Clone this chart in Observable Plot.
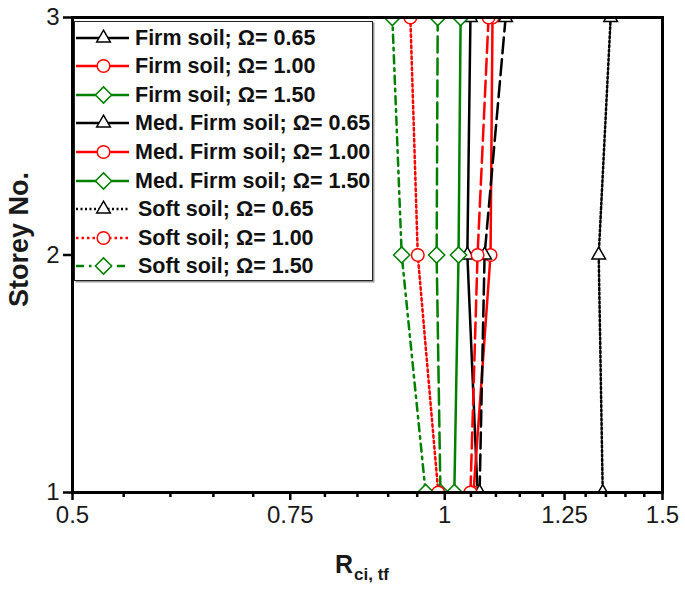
<!DOCTYPE html>
<html>
<head>
<meta charset="utf-8">
<script src="https://cdn.jsdelivr.net/npm/d3@7"></script>
<script src="https://cdn.jsdelivr.net/npm/@observablehq/plot@0.6"></script>
<style>
  html, body { margin: 0; padding: 0; background: #fff; }
  #wrap { position: relative; width: 685px; height: 591px; font-family: "Liberation Sans", Arial, sans-serif; }
  #legend { position: absolute; left: 74px; top: 21px; width: 299px; height: 260px; background: #fff;
            border: 1.5px solid #222; box-shadow: 1.5px 1.5px 0 #999; box-sizing: border-box; overflow: hidden; }
  .row { position: absolute; left: 0; height: 24px; width: 300px; }
  .row svg { position: absolute; left: 0; top: 0; }
  .row span { position: absolute; top: 0; line-height: 24px; font-weight: bold; font-size: 21.5px; color: #111; white-space: nowrap; }
</style>
</head>
<body>
<div id="wrap"></div>
<script>
// ---- data ----
const storeys = [1, 2, 3];
const majorTicksX = [0.5, 0.75, 1, 1.25, 1.5];
const minorTicksX = [0.55, 0.6, 0.65, 0.7, 0.8, 0.85, 0.9, 0.95, 1.05, 1.1, 1.15, 1.2, 1.3, 1.35, 1.4, 1.45];
const ticksY = [1, 2, 3];

const seriesNames = [
  "Firm soil; Ω= 0.65", "Firm soil; Ω= 1.00", "Firm soil; Ω= 1.50",
  "Med. Firm soil; Ω= 0.65", "Med. Firm soil; Ω= 1.00", "Med. Firm soil; Ω= 1.50",
  "Soft soil; Ω= 0.65", "Soft soil; Ω= 1.00", "Soft soil; Ω= 1.50"
];
// R_ci,tf values at storeys 1, 2, 3
const firm065 = [1.063, 1.043, 1.049];
const firm100 = [1.055, 1.089, 1.093];
const firm150 = [1.018, 1.026, 1.030];
const med065  = [1.067, 1.077, 1.120];
const med100  = [1.049, 1.063, 1.085];
const med150  = [0.992, 0.985, 0.987];
const soft065 = [1.342, 1.332, 1.362];
const soft100 = [0.988, 0.951, 0.938];
const soft150 = [0.965, 0.923, 0.907];
const seriesValues = [firm065, firm100, firm150, med065, med100, med150, soft065, soft100, soft150];

// ---- styles ----
const BLACK = "#000000", RED = "#ff0000", GREEN = "#008000";
const colors  = [BLACK, RED, GREEN, BLACK, RED, GREEN, BLACK, RED, GREEN];
const symbols = ["triangle2", "circle", "diamond2", "triangle2", "circle", "diamond2", "triangle2", "circle", "diamond2"];
const radii   = { triangle2: 6.5, circle: 6.3, diamond2: 7.3 };
const dashes  = [null, null, null, "16,6", "16,6", "16,6", "2,2.5", "2.5,3", "8,5,2.5,5"];
const legendDashes = [null, null, null, null, null, null, "2,2.5", "2.5,3", "8,5,2.5,5"];

const series = seriesValues.map((vals, k) => storeys.map((s, i) => ({ x: vals[i], y: s, k })));

const lineMarks = series.map((d, k) => Plot.line(d, {
  x: "x", y: "y", stroke: colors[k], strokeWidth: 2.5, strokeDasharray: dashes[k]
}));
const dotMarks = series.map((d, k) => Plot.dot(d, {
  x: "x", y: "y", symbol: symbols[k], r: radii[symbols[k]],
  stroke: colors[k], fill: "white", strokeWidth: 1.5
}));

const plot = Plot.plot({
  width: 685, height: 591,
  marginLeft: 72, marginRight: 23, marginTop: 17, marginBottom: 99,
  x: { type: "log", domain: [0.5, 1.5] },
  y: { domain: [1, 3] },
  style: { fontFamily: "'Liberation Sans', Arial, sans-serif", background: "white", color: "#000" },
  marks: [
    ...lineMarks,
    ...dotMarks,
    Plot.axisX({ ticks: majorTicksX, tickFormat: d => String(d), tickSize: 8, tickPadding: 5,
                 fontSize: 24, strokeWidth: 2.5, fill: "#1a1a1a", label: null }),
    Plot.axisX({ ticks: minorTicksX, tickSize: 5, strokeWidth: 2.5, fill: "none", label: null }),
    Plot.axisY({ ticks: ticksY, tickFormat: d => String(d), tickSize: 9, tickPadding: 4, fontSize: 24,
                 strokeWidth: 2.5, fill: "#1a1a1a", label: null }),
    Plot.frame({ stroke: "#000", strokeWidth: 3 })
  ]
});

const wrap = document.getElementById("wrap");
plot.style.position = "absolute";
plot.style.left = "0"; plot.style.top = "0";
wrap.appendChild(plot);

const svg = d3.select(plot);
const xs = plot.scale("x"), ys = plot.scale("y");

// clip data marks to the plotting frame: move them into a nested svg viewport
const fx0 = xs.apply(0.5), fx1 = xs.apply(1.5), fy0 = ys.apply(3), fy1 = ys.apply(1);
const dataGroups = Array.from(plot.querySelectorAll(':scope > g[aria-label="line"], :scope > g[aria-label="dot"]'));
const inner = document.createElementNS("http://www.w3.org/2000/svg", "svg");
inner.setAttribute("x", fx0); inner.setAttribute("y", fy0);
inner.setAttribute("width", fx1 - fx0); inner.setAttribute("height", fy1 - fy0);
inner.setAttribute("viewBox", `${fx0} ${fy0} ${fx1 - fx0} ${fy1 - fy0}`);
inner.setAttribute("overflow", "hidden");
if (dataGroups.length) {
  plot.insertBefore(inner, dataGroups[0]);
  dataGroups.forEach(g => inner.appendChild(g));
}

// axis titles
const yMid = (ys.apply(1) + ys.apply(3)) / 2;
svg.append("text")
  .attr("transform", `translate(28,${yMid - 15}) rotate(-90)`)
  .attr("text-anchor", "middle")
  .attr("font-size", 27).attr("font-weight", "bold").attr("fill", "#1a1a1a")
  .attr("font-family", "'Liberation Sans', Arial, sans-serif")
  .text("Storey No.");
const xMid = (fx0 + fx1) / 2;
const xl = svg.append("text")
  .attr("x", xMid - 32).attr("y", 573)
  .attr("text-anchor", "start")
  .attr("font-weight", "bold").attr("fill", "#1a1a1a")
  .attr("font-family", "'Liberation Sans', Arial, sans-serif");
xl.append("tspan").attr("font-size", 25).text("R");
xl.append("tspan").attr("font-size", 17).attr("dy", 7).attr("dx", 1).text("ci, tf");

// legend
const legend = document.createElement("div");
legend.id = "legend";
wrap.appendChild(legend);
seriesNames.forEach((name, k) => {
  const row = document.createElement("div");
  row.className = "row";
  row.style.top = (17 + k * 28.6 - 12 - 1.5) + "px";
  const s = d3.create("svg").attr("width", 60).attr("height", 24);
  s.append("line").attr("x1", 1).attr("x2", 54).attr("y1", 12).attr("y2", 12)
    .attr("stroke", colors[k]).attr("stroke-width", 2.5)
    .attr("stroke-dasharray", legendDashes[k]);
  const sym = { triangle2: d3.symbolTriangle2, circle: d3.symbolCircle, diamond2: d3.symbolDiamond2 }[symbols[k]];
  const r = radii[symbols[k]];
  s.append("path").attr("d", d3.symbol(sym, Math.PI * r * r)())
    .attr("transform", "translate(28.5,12)")
    .attr("fill", "white").attr("stroke", colors[k]).attr("stroke-width", 1.5);
  row.appendChild(s.node());
  const t = document.createElement("span");
  t.textContent = name;
  t.style.left = (k >= 6 ? 63 : 60) + "px";
  row.appendChild(t);
  legend.appendChild(row);
});
</script>
</body>
</html>
